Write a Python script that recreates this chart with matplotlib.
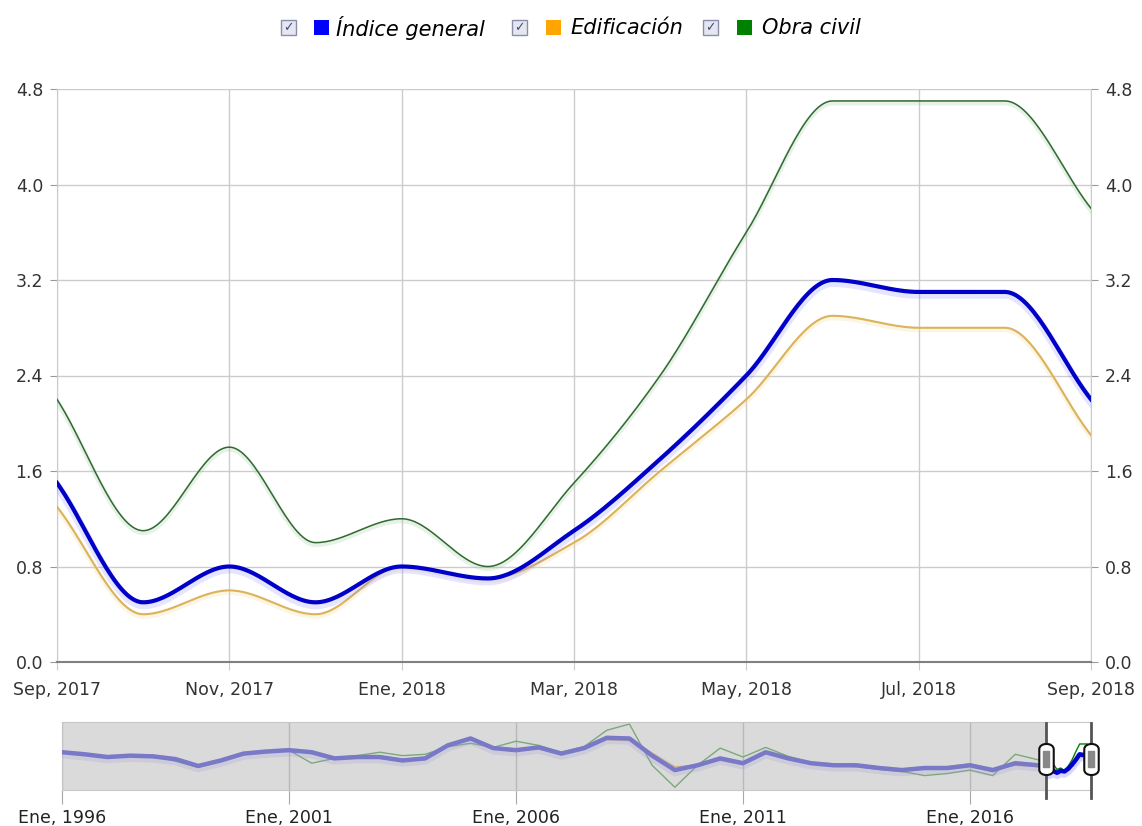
import matplotlib
matplotlib.use("Agg")
import matplotlib.pyplot as plt
import matplotlib.patheffects as pe
from matplotlib.patches import Rectangle
from matplotlib.path import Path
import numpy as np

# ---- data (main view, monthly Sep 2017 .. Sep 2018) ----
month_labels = ["Sep, 2017", "Nov, 2017", "Ene, 2018", "Mar, 2018",
                "May, 2018", "Jul, 2018", "Sep, 2018"]
indice_general = [1.5, 0.5, 0.8, 0.5, 0.8, 0.7, 1.1, 1.7, 2.4, 3.2, 3.1, 3.1, 2.2]
edificacion = [1.3, 0.4, 0.6, 0.4, 0.8, 0.7, 1.0, 1.6, 2.2, 2.9, 2.8, 2.8, 1.9]
obra_civil = [2.2, 1.1, 1.8, 1.0, 1.2, 0.8, 1.5, 2.4, 3.6, 4.7, 4.7, 4.7, 3.8]

# ---- data (navigator, half-yearly 1996.0 .. 2017.5, read roughly) ----
nav_indice = [3.5, 3.2, 2.8, 3.0, 2.9, 2.5, 1.5, 2.3, 3.3, 3.6, 3.8, 3.5,
              2.6, 2.8, 2.8, 2.3, 2.6, 4.5, 5.5, 4.1, 3.8, 4.2, 3.3, 4.1,
              5.6, 5.5, 3.0, 0.9, 1.6, 2.6, 1.9, 3.5, 2.6, 1.9, 1.6, 1.6,
              1.2, 0.9, 1.2, 1.2, 1.6, 0.9, 1.9, 1.6]
nav_edif = [3.5, 3.2, 2.8, 3.0, 2.9, 2.5, 1.5, 2.3, 3.3, 3.6, 3.8, 3.6,
            2.8, 2.7, 2.6, 2.2, 2.5, 4.5, 5.6, 4.1, 3.6, 4.1, 3.2, 4.0,
            5.3, 5.2, 3.4, 1.4, 1.6, 2.3, 1.7, 3.3, 2.5, 1.9, 1.7, 1.7,
            1.3, 1.0, 1.4, 1.4, 1.8, 1.1, 1.6, 1.4]
nav_obra = [3.5, 3.2, 2.8, 3.0, 2.9, 2.2, 1.3, 2.3, 3.3, 3.6, 3.8, 1.9,
            2.6, 3.0, 3.5, 3.0, 3.2, 4.3, 4.8, 4.2, 5.1, 4.5, 3.5, 4.3,
            6.7, 7.6, 1.6, -1.6, 1.6, 4.1, 2.8, 4.2, 2.9, 2.0, 1.6, 1.4,
            1.0, 0.7, 0.1, 0.4, 0.9, 0.1, 3.2, 2.4]


def pchip(x, y, n=400):
    # monotone cubic (Fritsch-Carlson), gives the flat/peaked look of the chart
    x = np.asarray(x, float)
    y = np.asarray(y, float)
    h = np.diff(x)
    d = np.diff(y) / h
    m = np.zeros_like(y)
    m[0] = d[0]
    m[-1] = d[-1]
    for k in range(1, len(y) - 1):
        if d[k - 1] * d[k] <= 0:
            m[k] = 0.0
        else:
            w1 = 2 * h[k] + h[k - 1]
            w2 = h[k] + 2 * h[k - 1]
            m[k] = (w1 + w2) / (w1 / d[k - 1] + w2 / d[k])
    xs = np.linspace(x[0], x[-1], n)
    idx = np.clip(np.searchsorted(x, xs) - 1, 0, len(x) - 2)
    t = (xs - x[idx]) / h[idx]
    h00 = 2 * t**3 - 3 * t**2 + 1
    h10 = t**3 - 2 * t**2 + t
    h01 = -2 * t**3 + 3 * t**2
    h11 = t**3 - t**2
    ys = h00 * y[idx] + h10 * h[idx] * m[idx] + h01 * y[idx + 1] + h11 * h[idx] * m[idx + 1]
    return xs, ys


W, H = 1142, 826
fig = plt.figure(figsize=(W / 100, H / 100), dpi=100)
plt.rcParams['font.family'] = ['DejaVu Sans']


def fx(px):
    return px / W


def fy(py):
    return 1 - py / H


# ---- main chart ----
ax = fig.add_axes([fx(57), fy(662), fx(1091) - fx(57), fy(89) - fy(662)])
months = np.arange(len(indice_general))

xs, ys = pchip(months, obra_civil)
ax.plot(xs, ys, color='#2f6a2f', lw=1.1, zorder=3,
        path_effects=[pe.SimpleLineShadow(offset=(0, -1.5), shadow_color='#a0c8a0', alpha=0.25, linewidth=3.5),
                      pe.Normal()])
xs, ys = pchip(months, edificacion)
ax.plot(xs, ys, color='#dcb25a', lw=1.5, zorder=3,
        path_effects=[pe.SimpleLineShadow(offset=(0, -1.5), shadow_color='#f0d890', alpha=0.25, linewidth=3.5),
                      pe.Normal()])
xs, ys = pchip(months, indice_general)
ax.plot(xs, ys, color='#0000c8', lw=3, zorder=4,
        path_effects=[pe.SimpleLineShadow(offset=(0, -2), shadow_color='#8080ff', alpha=0.2, linewidth=6),
                      pe.Normal()])

ax.set_xlim(0, 12)
ax.set_ylim(0, 4.8)
ax.set_xticks(np.arange(0, 13, 2))
ax.set_xticklabels(month_labels)
ax.set_yticks(np.arange(0, 4.81, 0.8))
ax.set_yticklabels(["%.1f" % v for v in np.arange(0, 4.81, 0.8)])
ax.grid(True, color='#cccccc', lw=1)
ax.set_axisbelow(True)
ax.tick_params(axis='y', left=True, right=True, labelleft=True, labelright=True,
               length=5, color='#999999', labelsize=12.5, labelcolor='#333333', pad=5)
ax.tick_params(axis='x', length=6, color='#cccccc', labelsize=12.5, labelcolor='#333333', pad=8)
ax.spines['top'].set_visible(False)
ax.spines['left'].set_color('#cccccc')
ax.spines['right'].set_color('#cccccc')
ax.spines['bottom'].set_color('#808080')
ax.spines['bottom'].set_linewidth(1.5)

# ---- legend with checkboxes ----
legend_items = [("Índice general", '#0000ff', 281, 314, 336),
                ("Edificación", '#ffa500', 512, 546, 570),
                ("Obra civil", '#008000', 703, 737, 762)]
for name, col, cx, sx, tx in legend_items:
    fig.patches.append(Rectangle((fx(cx), fy(35)), fx(15), fy(20) - fy(35),
                                 transform=fig.transFigure, facecolor='#e4e6f0',
                                 edgecolor='#8a8ea8', lw=1))
    fig.text(fx(cx + 7.5), fy(27.5), "\u2713", ha='center', va='center',
             fontsize=9, color='#4a4a7a', fontweight='bold')
    fig.patches.append(Rectangle((fx(sx), fy(35)), fx(15), fy(20) - fy(35),
                                 transform=fig.transFigure, facecolor=col,
                                 edgecolor='none'))
    fig.text(fx(tx), fy(27.5), name, ha='left', va='center', fontsize=15,
             style='italic', color='#000000')

# ---- navigator ----
nav = fig.add_axes([fx(62), fy(790), fx(1091) - fx(62), fy(722) - fy(790)])
nav_t = list(np.arange(1996.0, 2017.51, 0.5)) + list(2017 + 8 / 12 + months / 12)
sel_start = 2017 + 8 / 12
nav.plot(nav_t, nav_obra + obra_civil, color='#008000', lw=1.0, zorder=2)
nav.plot(nav_t, nav_edif + edificacion, color='#e0a030', lw=1.0, zorder=2)
nav.plot(nav_t, nav_indice + indice_general, color='#0000cc', lw=3.2, zorder=3,
         path_effects=[pe.SimpleLineShadow(offset=(0, -1.5), shadow_color='#6060ff', alpha=0.25, linewidth=6),
                       pe.Normal()])
nav.axvspan(1996, sel_start, color='#c4c4c4', alpha=0.62, lw=0, zorder=5)
nav.set_xlim(1996, 2018 + 8 / 12)
nav.set_ylim(-2.0, 7.9)
nav.set_yticks([])
nav_years = [1996, 2001, 2006, 2011, 2016]
nav.set_xticks(nav_years)
nav.set_xticklabels(["Ene, %d" % y for y in nav_years])
nav.grid(True, axis='x', color='#a8a8a8', lw=1, zorder=6)
nav.tick_params(axis='x', length=10, color='#a8a8a8', labelsize=12.5,
                labelcolor='#222222', pad=4)
for s in nav.spines.values():
    s.set_color('#c8c8c8')

# handles on the selection window
capsule = Path([(-0.5, 0.7), (-0.5, -0.7), (-0.5, -1.2), (0.5, -1.2), (0.5, -0.7),
                (0.5, 0.7), (0.5, 1.2), (-0.5, 1.2), (-0.5, 0.7)],
               [Path.MOVETO, Path.LINETO, Path.CURVE4, Path.CURVE4, Path.CURVE4,
                Path.LINETO, Path.CURVE4, Path.CURVE4, Path.CURVE4])
bar = Path([(-0.18, -0.5), (0.18, -0.5), (0.18, 0.5), (-0.18, 0.5), (-0.18, -0.5)],
           [Path.MOVETO, Path.LINETO, Path.LINETO, Path.LINETO, Path.CLOSEPOLY])
for hx in [sel_start, 2018 + 8 / 12]:
    nav.axvline(hx, ymin=-0.12, ymax=0.98, color='#555555', lw=2, clip_on=False, zorder=7)
    nav.plot([hx], [2.5], marker=capsule, markersize=25, markerfacecolor='white',
             markeredgecolor='#111111', markeredgewidth=1.5, clip_on=False, zorder=8)
    nav.plot([hx], [2.5], marker=bar, markersize=12, markerfacecolor='#888888',
             markeredgecolor='#888888', clip_on=False, zorder=9)

fig.savefig("out.png", dpi=100)
